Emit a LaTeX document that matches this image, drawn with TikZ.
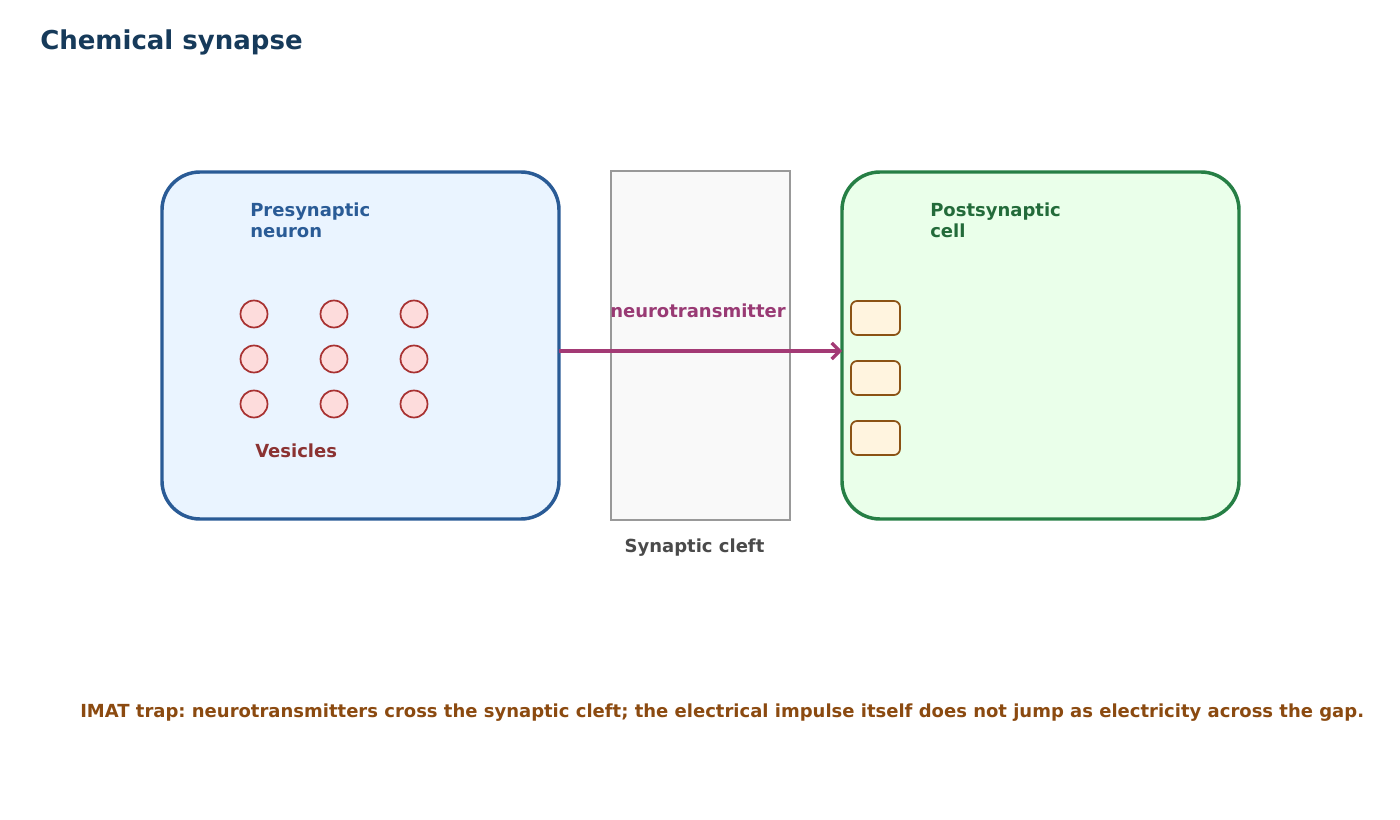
\documentclass[tikz,border=0pt]{standalone}
\usepackage{fontspec}
\setmainfont{DejaVu Sans}
\usetikzlibrary{arrows.meta}
\frenchspacing
\definecolor{titlec}{HTML}{163A5A}
\definecolor{preline}{HTML}{2A5B96}
\definecolor{prefill}{HTML}{EAF4FF}
\definecolor{postline}{HTML}{267F45}
\definecolor{postfill}{HTML}{EAFFEA}
\definecolor{posttext}{HTML}{236B3A}
\definecolor{cleftline}{HTML}{999999}
\definecolor{cleftfill}{HTML}{F9F9F9}
\definecolor{clefttext}{HTML}{4A4A4A}
\definecolor{vesline}{HTML}{A83232}
\definecolor{vesfill}{HTML}{FDDCDC}
\definecolor{vestext}{HTML}{8B3232}
\definecolor{recline}{HTML}{8B5214}
\definecolor{recfill}{HTML}{FFF4DF}
\definecolor{ntc}{HTML}{A33A75}
\definecolor{ntt}{HTML}{993A74}
\definecolor{trapc}{HTML}{8B4A10}
\tikzset{
  cell/.style={draw, line width=2.6pt, rounded corners=28.5pt, minimum width=297.75pt, minimum height=260.25pt, inner sep=0pt, outer sep=0pt},
  cleftbox/.style={draw=cleftline, fill=cleftfill, line width=1.6pt, minimum width=134.25pt, minimum height=261.75pt, inner sep=0pt, outer sep=0pt},
  vesicle/.style={circle, draw=vesline, fill=vesfill, line width=1.3pt, minimum size=20.25pt, inner sep=0pt},
  receptor/.style={draw=recline, fill=recfill, line width=1.3pt, rounded corners=4.5pt, minimum width=36.75pt, minimum height=25.5pt, inner sep=0pt},
  lbl/.style={anchor=base west, inner sep=0pt, align=left},
  ntarrow/.style={draw=ntc, line width=2.5pt, -{Straight Barb[length=6pt,width=12pt]}}
}
\begin{document}
\begin{tikzpicture}[x=0.75pt,y=-0.75pt, font=\bfseries\fontsize{13.5}{15.75}\selectfont]
\useasboundingbox (0,0) rectangle (1400,820);
\node[lbl, text=titlec, font=\bfseries\fontsize{19.5}{24}\selectfont] (title) at (40,50) {Chemical synapse};
\node[cell, draw=preline, fill=prefill] (pre) at (360.5,345.5) {};
\node[cleftbox] (cleft) at (700.5,345.5) {};
\node[cell, draw=postline, fill=postfill] (post) at (1040.5,345.5) {};
\node[lbl, text=preline] (prelbl) at (250,238) {Presynaptic\\neuron};
\node[lbl, text=posttext] (postlbl) at (930,238) {Postsynaptic\\cell};
\foreach \i/\x in {1/254,2/334,3/414}{
  \foreach \j/\y in {1/314,2/359,3/404}{
    \node[vesicle] (v\i\j) at (\x,\y) {};
  }
}
\node[lbl, text=vestext] (veslbl) at (255,457) {Vesicles};
\foreach \k/\y in {1/318,2/378,3/438}{
  \node[receptor] (r\k) at (875.5,\y) {};
}
\draw[ntarrow] (pre.east |- 0,351) -- (post.west |- 0,351);
\node[anchor=base, inner sep=0pt, text=ntt] (ntlbl) at (698,317) {neurotransmitter};
\node[anchor=base, inner sep=0pt, text=clefttext] (cleftlbl) at (694.5,552) {Synaptic cleft};
\node[lbl, text=trapc] (trap) at (80,717) {IMAT trap: neurotransmitters cross the synaptic cleft; the electrical impulse itself does not jump as electricity across the gap.};
\end{tikzpicture}
\end{document}
